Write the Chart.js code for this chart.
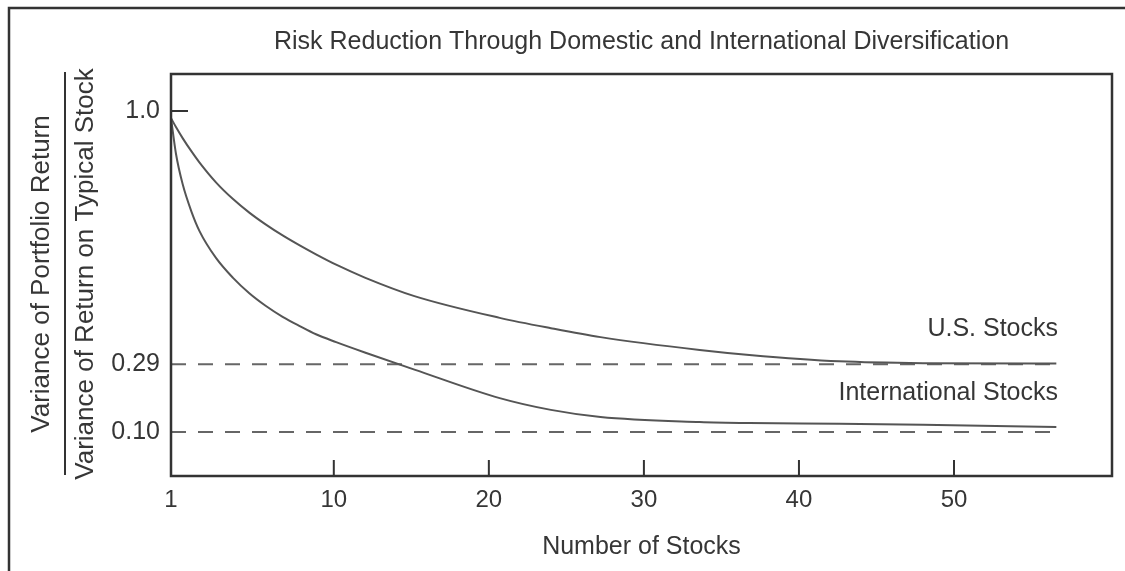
<!DOCTYPE html>
<html>
<head>
<meta charset="utf-8">
<title>Risk Reduction Through Domestic and International Diversification</title>
<script src="https://cdn.jsdelivr.net/npm/chart.js@4.4.1/dist/chart.umd.min.js"></script>
<style>
	html, body { margin: 0; padding: 0; background: #fff; }
	#wrap { width: 1125px; height: 571px; }
</style>
</head>
<body>
<div id="wrap"><canvas id="riskChart"></canvas></div>
<script>
// values (x is the stock count axis, left edge labelled 1)
var stockX = [-0.5, -0.18, 0.25, 0.8, 1.33, 2.4, 3.5, 4.55, 5.6, 6.7, 7.8, 8.85, 10.15, 12, 15.2, 20.7, 24, 27.2, 33.6, 36.8, 42.6, 48, 56.6];
var usVar = [0.98, 0.955, 0.924, 0.888, 0.856, 0.800, 0.753, 0.715, 0.682, 0.651, 0.623, 0.598, 0.569, 0.533, 0.481, 0.420, 0.391, 0.366, 0.330, 0.316, 0.298, 0.293, 0.292];
var intlVar = [0.98, 0.88, 0.795, 0.72, 0.664, 0.588, 0.532, 0.489, 0.454, 0.423, 0.397, 0.374, 0.352, 0.323, 0.275, 0.195, 0.162, 0.142, 0.128, 0.125, 0.123, 0.12, 0.114];
var limitUS = 0.29;
var limitIntl = 0.10;
var limitX = [-0.5, 56.6];
var xTickValues = [-0.5, 10, 20, 30, 40, 50];
var xTickLabels = ['1', '10', '20', '30', '40', '50'];
var yTickValues = [0.10, 0.29, 1.0];
var yTickLabels = ['0.10', '0.29', '1.0'];

var ink = '#363636';
var curveInk = '#555';
var font = '"Liberation Sans", Arial, sans-serif';

function points(xs, ys) {
	var out = [];
	for (var i = 0; i < xs.length; i++) out.push({ x: xs[i], y: ys[i] });
	return out;
}

function flat(val) {
	return [{ x: limitX[0], y: val }, { x: limitX[1], y: val }];
}

// frame, box, inner tick stubs, y title fraction and curve labels
var decor = {
	id: 'decor',
	afterDraw: function(chart) {
		var ctx = chart.ctx;
		var a = chart.chartArea;
		var xs = chart.scales.x, ys = chart.scales.y;
		ctx.save();
		ctx.strokeStyle = '#333';
		ctx.lineWidth = 2.5;
		// outer page frame
		ctx.beginPath();
		ctx.moveTo(1125, 8);
		ctx.lineTo(9, 8);
		ctx.lineTo(9, 571);
		ctx.stroke();
		// plot box
		ctx.strokeRect(a.left, a.top, a.right - a.left, a.bottom - a.top);
		// tick stubs pointing inward
		ctx.lineWidth = 2;
		ctx.beginPath();
		var y1 = ys.getPixelForValue(1.0);
		ctx.moveTo(a.left, y1);
		ctx.lineTo(a.left + 17, y1);
		for (var i = 1; i < xTickValues.length; i++) {
			var px = xs.getPixelForValue(xTickValues[i]);
			ctx.moveTo(px, a.bottom);
			ctx.lineTo(px, a.bottom - 16);
		}
		ctx.stroke();
		// y title as a fraction
		ctx.fillStyle = ink;
		ctx.font = '26px ' + font;
		ctx.textAlign = 'center';
		ctx.textBaseline = 'middle';
		ctx.save();
		ctx.translate(42, 274);
		ctx.rotate(-Math.PI / 2);
		ctx.fillText('Variance of Portfolio Return', 0, 0);
		ctx.restore();
		ctx.save();
		ctx.translate(86, 274);
		ctx.rotate(-Math.PI / 2);
		ctx.fillText('Variance of Return on Typical Stock', 0, 0);
		ctx.restore();
		ctx.beginPath();
		ctx.moveTo(65, 72);
		ctx.lineTo(65, 475);
		ctx.stroke();
		// curve labels
		ctx.font = '25px ' + font;
		ctx.textAlign = 'right';
		ctx.fillText('U.S. Stocks', 1058, 329);
		ctx.fillText('International Stocks', 1058, 393);
		ctx.restore();
	}
};

var curveStyle = {
	borderColor: curveInk,
	borderWidth: 2,
	pointRadius: 0,
	fill: false,
	cubicInterpolationMode: 'monotone'
};

new Chart(document.getElementById('riskChart'), {
	type: 'line',
	data: {
		datasets: [
			Object.assign({ label: 'U.S. Stocks', data: points(stockX, usVar) }, curveStyle),
			Object.assign({ label: 'International Stocks', data: points(stockX, intlVar) }, curveStyle),
			{ label: 'U.S. limit', data: flat(limitUS), borderColor: '#666', borderWidth: 2, borderDash: [15, 12], pointRadius: 0 },
			{ label: 'International limit', data: flat(limitIntl), borderColor: '#666', borderWidth: 2, borderDash: [15, 12], pointRadius: 0 }
		]
	},
	options: {
		responsive: true,
		maintainAspectRatio: false,
		animation: false,
		layout: { padding: { left: 0, right: 13, top: 0, bottom: 0 } },
		plugins: {
			legend: { display: false },
			tooltip: { enabled: false },
			title: {
				display: true,
				fullSize: false,
				text: 'Risk Reduction Through Domestic and International Diversification',
				color: ink,
				font: { family: font, size: 25, weight: 'normal' },
				padding: { top: 27, bottom: 17 }
			}
		},
		scales: {
			x: {
				type: 'linear',
				min: -0.5,
				max: 60.19,
				grid: { display: false, drawTicks: false },
				border: { display: false },
				afterBuildTicks: function(scale) {
					scale.ticks = xTickValues.map(function(v) { return { value: v }; });
				},
				afterFit: function(scale) { scale.height = 95; },
				ticks: {
					padding: 10,
					color: ink,
					font: { family: font, size: 24 },
					maxRotation: 0,
					callback: function(v) {
						var i = xTickValues.indexOf(v);
						return i < 0 ? '' : xTickLabels[i];
					}
				},
				title: {
					display: true,
					text: 'Number of Stocks',
					color: ink,
					font: { family: font, size: 25 },
					padding: { top: 9, bottom: 9 }
				}
			},
			y: {
				type: 'linear',
				min: -0.0234,
				max: 1.1037,
				grid: { display: false, drawTicks: false },
				border: { display: false },
				afterBuildTicks: function(scale) {
					scale.ticks = yTickValues.map(function(v) { return { value: v }; });
				},
				afterFit: function(scale) { scale.width = 171; },
				ticks: {
					padding: 11,
					color: ink,
					font: { family: font, size: 25 },
					callback: function(v) {
						var i = yTickValues.indexOf(v);
						return i < 0 ? '' : yTickLabels[i];
					}
				}
			}
		}
	},
	plugins: [decor]
});
</script>
</body>
</html>
